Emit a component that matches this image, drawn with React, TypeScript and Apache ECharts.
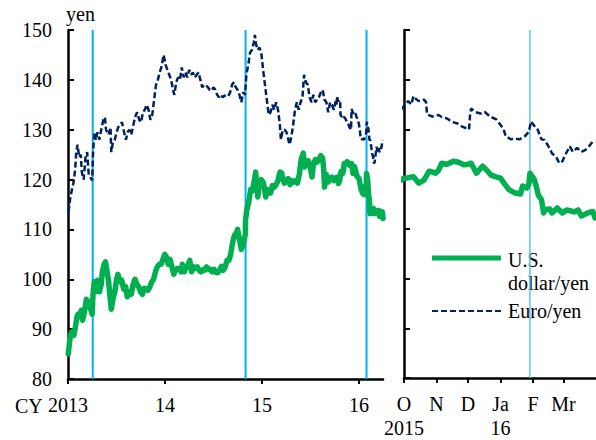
import React, { useEffect, useRef } from "react";
import * as echarts from "echarts";

// ---------- data ----------
const usdDates = [
  "2013-01-02","2013-01-07","2013-01-11","2013-01-17","2013-01-23","2013-01-29","2013-02-04","2013-02-08","2013-02-14","2013-02-20","2013-02-25",
  "2013-03-04","2013-03-11","2013-03-15","2013-03-21","2013-03-27","2013-04-02","2013-04-05","2013-04-10","2013-04-16","2013-04-22","2013-04-29",
  "2013-05-06","2013-05-10","2013-05-17","2013-05-22","2013-05-28","2013-06-03","2013-06-07","2013-06-13","2013-06-19","2013-06-26",
  "2013-07-03","2013-07-08","2013-07-15","2013-07-22","2013-07-30","2013-08-06","2013-08-12","2013-08-19","2013-08-27",
  "2013-09-03","2013-09-10","2013-09-17","2013-09-24","2013-10-01","2013-10-08","2013-10-15","2013-10-22","2013-10-29",
  "2013-11-05","2013-11-12","2013-11-19","2013-11-26","2013-12-03","2013-12-10","2013-12-17","2013-12-24","2013-12-31",
  "2014-01-06","2014-01-13","2014-01-20","2014-01-27","2014-02-03","2014-02-10","2014-02-17","2014-02-24",
  "2014-03-03","2014-03-07","2014-03-14","2014-03-21","2014-03-28","2014-04-04","2014-04-11","2014-04-18","2014-04-25",
  "2014-05-02","2014-05-09","2014-05-16","2014-05-23","2014-05-30","2014-06-06","2014-06-13","2014-06-20","2014-06-27",
  "2014-07-04","2014-07-11","2014-07-18","2014-07-25","2014-08-01","2014-08-08","2014-08-15","2014-08-22","2014-08-29",
  "2014-09-05","2014-09-12","2014-09-19","2014-09-26","2014-10-01","2014-10-08","2014-10-15","2014-10-22","2014-10-30","2014-10-31",
  "2014-11-05","2014-11-12","2014-11-19","2014-11-26","2014-12-03","2014-12-08","2014-12-12","2014-12-16","2014-12-22","2014-12-29",
  "2015-01-05","2015-01-09","2015-01-15","2015-01-21","2015-01-27","2015-02-02","2015-02-09","2015-02-16","2015-02-23",
  "2015-03-02","2015-03-06","2015-03-10","2015-03-16","2015-03-19","2015-03-26","2015-04-02","2015-04-09","2015-04-16","2015-04-23","2015-04-30",
  "2015-05-07","2015-05-14","2015-05-21","2015-05-28","2015-06-05","2015-06-10","2015-06-17","2015-06-24",
  "2015-07-01","2015-07-08","2015-07-13","2015-07-20","2015-07-27","2015-08-03","2015-08-10","2015-08-17","2015-08-21","2015-08-24","2015-08-31",
  "2015-09-07","2015-09-14","2015-09-21","2015-09-28",
  "2015-10-01","2015-10-05","2015-10-10","2015-10-15","2015-10-20","2015-10-25","2015-10-31","2015-11-03","2015-11-06","2015-11-11","2015-11-17","2015-11-22","2015-11-27",
  "2015-12-01","2015-12-04","2015-12-09","2015-12-15","2015-12-18","2015-12-23","2015-12-27","2016-01-01","2016-01-05","2016-01-09","2016-01-15","2016-01-20","2016-01-22","2016-01-26","2016-01-28","2016-01-29",
  "2016-02-02","2016-02-04","2016-02-06","2016-02-09","2016-02-11","2016-02-13","2016-02-17","2016-02-19","2016-02-24","2016-02-29",
  "2016-03-04","2016-03-08","2016-03-11","2016-03-15","2016-03-18","2016-03-24","2016-03-29","2016-03-31"
];
const usdValues = [
  85.0,87.5,89.0,89.5,88.8,90.5,92.5,93.0,92.5,93.8,91.8,
  93.5,96.0,95.0,95.5,94.0,93.0,97.0,99.5,97.5,99.8,97.5,
  99.0,101.5,103.0,103.5,101.5,99.5,97.0,94.0,96.0,97.5,
  100.0,101.0,99.5,99.8,98.0,98.5,96.5,97.5,97.0,
  99.0,100.0,99.0,98.5,97.5,97.0,98.2,98.0,97.8,
  98.5,99.5,100.0,101.5,102.5,103.0,103.0,104.0,105.0,
  104.5,103.0,104.0,102.5,101.0,102.0,102.2,102.0,
  101.5,103.0,101.5,102.3,102.8,103.8,101.5,102.5,102.2,
  102.5,101.8,101.5,101.9,101.8,102.5,102.0,102.0,101.5,
  102.0,101.4,101.3,101.8,102.6,101.8,102.4,103.8,103.8,
  105.0,107.3,108.8,109.3,110.0,108.0,106.0,107.0,109.0,112.0,
  114.0,115.5,118.0,117.8,119.8,121.5,118.8,116.5,119.5,120.0,
  119.5,118.5,116.5,118.0,117.8,117.3,118.8,118.5,119.0,
  119.8,120.8,121.5,121.3,120.3,119.3,119.8,120.2,119.0,119.8,119.5,
  119.8,119.3,121.0,124.0,125.3,122.5,123.8,123.8,
  122.5,120.5,123.0,124.0,123.5,124.0,124.8,124.3,122.0,118.5,121.0,
  119.5,120.3,120.5,119.8,
  120.2,120.3,120.5,119.2,119.8,121.6,121.2,121.8,123.2,123.0,123.6,123.4,122.9,
  123.0,123.2,121.2,122.6,122.0,120.8,120.5,120.2,119.0,117.9,117.2,117.0,118.6,118.2,118.9,121.2,
  120.0,118.6,116.8,115.9,113.2,113.9,114.0,113.2,114.2,113.2,
  113.8,113.6,113.4,113.8,112.6,113.2,113.5,112.2
];

const eurDates = [
  "2013-01-02","2013-01-04","2013-01-10","2013-01-16","2013-01-22","2013-01-28","2013-02-01","2013-02-06","2013-02-12","2013-02-18","2013-02-22",
  "2013-03-01","2013-03-08","2013-03-14","2013-03-20","2013-03-26","2013-04-02","2013-04-05","2013-04-10","2013-04-16","2013-04-22","2013-04-29",
  "2013-05-06","2013-05-14","2013-05-20","2013-05-24","2013-06-03","2013-06-10","2013-06-13","2013-06-19","2013-06-26",
  "2013-07-03","2013-07-09","2013-07-16","2013-07-23","2013-07-31","2013-08-07","2013-08-13","2013-08-20","2013-08-27",
  "2013-09-04","2013-09-10","2013-09-18","2013-09-26","2013-10-03","2013-10-10","2013-10-17","2013-10-24","2013-10-31",
  "2013-11-07","2013-11-14","2013-11-21","2013-11-28","2013-12-05","2013-12-12","2013-12-18","2013-12-27",
  "2014-01-03","2014-01-10","2014-01-17","2014-01-24","2014-01-31","2014-02-05","2014-02-12","2014-02-19","2014-02-26",
  "2014-03-05","2014-03-12","2014-03-19","2014-03-26","2014-04-02","2014-04-09","2014-04-16","2014-04-23","2014-04-30",
  "2014-05-07","2014-05-14","2014-05-21","2014-05-28","2014-06-04","2014-06-11","2014-06-18","2014-06-25",
  "2014-07-02","2014-07-09","2014-07-16","2014-07-23","2014-07-30","2014-08-06","2014-08-13","2014-08-20","2014-08-27",
  "2014-09-03","2014-09-10","2014-09-17","2014-09-24","2014-10-01","2014-10-08","2014-10-15","2014-10-22","2014-10-29",
  "2014-11-03","2014-11-10","2014-11-17","2014-11-24","2014-12-01","2014-12-05","2014-12-10","2014-12-16","2014-12-22","2014-12-29",
  "2015-01-05","2015-01-12","2015-01-19","2015-01-26","2015-02-02","2015-02-09","2015-02-16","2015-02-23",
  "2015-03-02","2015-03-09","2015-03-13","2015-03-20","2015-03-27","2015-04-03","2015-04-10","2015-04-14","2015-04-21","2015-04-28",
  "2015-05-05","2015-05-12","2015-05-19","2015-05-26","2015-06-02","2015-06-08","2015-06-15","2015-06-22","2015-06-29",
  "2015-07-06","2015-07-13","2015-07-20","2015-07-27","2015-08-03","2015-08-10","2015-08-17","2015-08-24","2015-08-31",
  "2015-09-07","2015-09-14","2015-09-21","2015-09-28",
  "2015-10-01","2015-10-05","2015-10-08","2015-10-10","2015-10-13","2015-10-15","2015-10-20","2015-10-22","2015-10-23","2015-10-28",
  "2015-11-03","2015-11-06","2015-11-11","2015-11-16","2015-11-21","2015-11-26","2015-11-30","2015-12-02","2015-12-03","2015-12-04",
  "2015-12-08","2015-12-13","2015-12-17","2015-12-22","2015-12-28","2015-12-31","2016-01-04","2016-01-06","2016-01-11","2016-01-14",
  "2016-01-19","2016-01-24","2016-01-28","2016-01-30","2016-02-03","2016-02-05","2016-02-09","2016-02-12","2016-02-16","2016-02-19",
  "2016-02-23","2016-02-26","2016-02-29","2016-03-03","2016-03-07","2016-03-10","2016-03-14","2016-03-18","2016-03-22","2016-03-25","2016-03-30"
];
const eurValues = [
  113.5,113.9,116.5,118.0,119.5,122.0,125.5,127.0,124.5,125.0,121.5,
  120.0,124.5,125.5,121.0,120.5,119.8,125.0,129.5,128.0,129.5,128.0,
  130.0,132.0,132.5,130.0,129.0,130.5,125.5,127.5,128.0,
  129.5,130.5,131.0,131.5,129.5,128.0,129.5,130.0,129.0,
  131.0,132.5,133.5,132.0,131.5,133.5,134.0,135.0,134.0,
  132.0,133.0,136.0,139.0,140.0,141.5,142.5,145.0,
  143.0,142.0,141.0,140.0,138.0,137.0,139.5,140.5,140.0,
  142.5,140.5,141.5,140.5,142.0,141.0,141.5,140.5,141.0,
  141.5,140.0,138.5,139.0,139.0,138.5,138.0,137.8,
  138.5,138.0,137.0,136.5,137.0,136.5,136.8,137.0,136.8,
  137.5,139.0,139.5,138.5,138.0,137.0,135.5,137.5,137.0,
  141.0,143.0,145.5,146.0,147.5,149.0,147.0,146.0,146.5,145.5,
  142.0,139.0,136.0,133.0,133.5,135.0,134.0,135.5,
  134.0,131.0,128.0,130.0,130.0,129.5,128.0,127.0,128.5,131.0,
  134.0,135.5,134.0,135.5,136.5,141.0,139.5,139.0,136.5,
  135.5,137.0,135.5,136.0,136.5,137.5,138.0,136.0,135.5,
  133.5,135.5,135.0,134.0,
  134.7,135.7,135.0,136.7,136.0,135.7,136.0,135.5,133.0,132.6,
  132.9,132.5,132.2,131.5,131.2,130.5,130.2,130.0,133.0,134.2,
  133.5,133.2,133.5,132.6,132.0,131.2,130.0,128.6,128.0,128.2,
  128.0,128.6,129.5,131.6,130.5,130.2,128.0,127.9,126.5,125.2,
  124.5,123.2,123.6,125.0,126.6,125.5,126.3,125.5,125.9,126.5,127.9
];

const eventDates = ["2013-04-04", "2014-10-31", "2016-01-29"];

const yearStarts = ["2013-01-01", "2014-01-01", "2015-01-01", "2016-01-01"];
const yearLabels = ["2013", "14", "15", "16"];
const monthStarts = ["2015-10-01", "2015-11-01", "2015-12-01", "2016-01-01", "2016-02-01", "2016-03-01"];
const monthLabels = ["O\n2015", "N", "D", "Ja\n16", "F", "Mr"];

const leftStart = "2013-01-01";
const leftEnd = "2016-03-31";
const rightStart = "2015-10-01";
const rightEnd = "2016-04-01";

const yMin = 80;
const yMax = 150;
const yStep = 10;

// ---------- helpers ----------
const DAY = 86400000;
const daysSince = (d: string, base: string) => Math.round((Date.parse(d) - Date.parse(base)) / DAY);

const GREEN = "#00b050";
const NAVY = "#002060";
const BLUE = "#00b0f0";
const FONT = "'Liberation Serif', 'Times New Roman', 'DejaVu Serif', serif";
const FONT_CSS = `20px ${FONT}`;

export default function App() {
  const ref = useRef<HTMLDivElement>(null);

  useEffect(() => {
    if (!ref.current) return;
    const chart = echarts.init(ref.current, undefined, { renderer: "svg" });

    const leftTicks = yearStarts.map((d) => daysSince(d, leftStart));
    const rightTicks = monthStarts.map((d) => daysSince(d, rightStart));
    const leftMap: Record<number, string> = {};
    leftTicks.forEach((t, i) => (leftMap[t] = yearLabels[i]));
    const rightMap: Record<number, string> = {};
    rightTicks.forEach((t, i) => (rightMap[t] = monthLabels[i]));

    const toLeft = (dates: string[], vals: number[]) => dates.map((d, i) => [daysSince(d, leftStart), vals[i]]);
    const toRight = (dates: string[], vals: number[]) =>
      dates
        .map((d, i) => [daysSince(d, rightStart), vals[i]])
        .filter((p) => p[0] >= -10);

    const rightMax = daysSince(rightEnd, rightStart);
    const leftMax = daysSince(leftEnd, leftStart);

    const xCommon = {
      type: "value" as const,
      axisLine: { show: true, onZero: false, lineStyle: { color: "#000", width: 2.5 } },
      axisTick: { show: true, inside: false, length: 5, lineStyle: { color: "#000", width: 2 } },
      splitLine: { show: false },
      axisLabel: {
        color: "#000",
        fontFamily: FONT,
        fontSize: 20,
        lineHeight: 24,
        margin: 14,
      },
    };

    const yCommon = {
      type: "value" as const,
      min: yMin,
      max: yMax,
      interval: yStep,
      axisLine: { show: true, onZero: false, lineStyle: { color: "#000", width: 2.5 } },
      axisTick: { show: true, inside: true, length: 6, lineStyle: { color: "#000", width: 2 } },
      splitLine: { show: false },
    };

    const eventSeries: any[] = [];
    eventDates.forEach((d) => {
      const lx = daysSince(d, leftStart);
      if (lx <= leftMax) {
        eventSeries.push({
          type: "line",
          xAxisIndex: 0,
          yAxisIndex: 0,
          data: [[lx, yMin], [lx, yMax]],
          symbol: "none",
          silent: true,
          z: 1,
          lineStyle: { color: BLUE, width: 2 },
        });
      }
      const rx = daysSince(d, rightStart);
      if (rx >= 0 && rx <= rightMax) {
        eventSeries.push({
          type: "line",
          xAxisIndex: 1,
          yAxisIndex: 1,
          data: [[rx, yMin], [rx, yMax]],
          symbol: "none",
          silent: true,
          z: 1,
          lineStyle: { color: "#55c4f2", width: 1.5 },
        });
      }
    });

    const usdStyle = { color: GREEN, width: 5.5, cap: "round", join: "round" };
    const eurStyle = { color: NAVY, width: 2.5, type: [6, 3] };

    chart.setOption({
      animation: false,
      backgroundColor: "#fff",
      textStyle: { fontFamily: FONT, color: "#000" },
      grid: [
        { left: 68, top: 30, width: 315, height: 349 },
        { left: 404, top: 30, width: 192, height: 349 },
      ],
      xAxis: [
        {
          ...xCommon,
          gridIndex: 0,
          min: 0,
          max: leftMax,
          axisTick: { ...xCommon.axisTick, customValues: leftTicks },
          axisLabel: {
            ...xCommon.axisLabel,
            customValues: leftTicks,
            formatter: (v: number) => leftMap[Math.round(v)] ?? "",
          },
        },
        {
          ...xCommon,
          gridIndex: 1,
          min: 0,
          max: rightMax,
          axisTick: { ...xCommon.axisTick, customValues: rightTicks },
          axisLabel: {
            ...xCommon.axisLabel,
            customValues: rightTicks,
            formatter: (v: number) => rightMap[Math.round(v)] ?? "",
          },
        },
      ],
      yAxis: [
        {
          ...yCommon,
          gridIndex: 0,
          name: "yen",
          nameLocation: "end",
          nameGap: 6,
          nameTextStyle: { color: "#000", fontFamily: FONT, fontSize: 20, align: "left", padding: [0, 0, 0, -2] },
          axisLabel: { color: "#000", fontFamily: FONT, fontSize: 20, margin: 16 },
        },
        {
          ...yCommon,
          gridIndex: 1,
          axisLabel: { show: false },
        },
      ],
      series: [
        ...eventSeries,
        {
          name: "Euro/yen",
          type: "line",
          xAxisIndex: 0,
          yAxisIndex: 0,
          data: toLeft(eurDates, eurValues),
          symbol: "none",
          z: 3,
          lineStyle: eurStyle,
        },
        {
          name: "U.S. dollar/yen",
          type: "line",
          xAxisIndex: 0,
          yAxisIndex: 0,
          data: toLeft(usdDates, usdValues),
          symbol: "none",
          z: 4,
          lineStyle: usdStyle,
        },
        {
          name: "Euro/yen",
          type: "line",
          xAxisIndex: 1,
          yAxisIndex: 1,
          data: toRight(eurDates, eurValues),
          symbol: "none",
          z: 3,
          lineStyle: eurStyle,
        },
        {
          name: "U.S. dollar/yen",
          type: "line",
          xAxisIndex: 1,
          yAxisIndex: 1,
          data: toRight(usdDates, usdValues),
          symbol: "none",
          z: 4,
          lineStyle: usdStyle,
        },
      ],
      graphic: [
        {
          type: "text",
          left: 15,
          top: 396,
          style: { text: "CY", fill: "#000", font: FONT_CSS },
        },
        {
          type: "group",
          z: 100,
          children: [
            { type: "rect", shape: { x: 425, y: 243, width: 171, height: 106 }, style: { fill: "#fff" } },
            { type: "line", shape: { x1: 432, y1: 258, x2: 501, y2: 258 }, style: { stroke: GREEN, lineWidth: 5 } },
            { type: "text", x: 508, y: 260, style: { text: "U.S.", fill: "#000", font: FONT_CSS, verticalAlign: "middle" } },
            { type: "text", x: 508, y: 283, style: { text: "dollar/yen", fill: "#000", font: FONT_CSS, verticalAlign: "middle" } },
            { type: "line", shape: { x1: 432, y1: 311, x2: 501, y2: 311 }, style: { stroke: NAVY, lineWidth: 2, lineDash: [6, 3] } },
            { type: "text", x: 508, y: 311, style: { text: "Euro/yen", fill: "#000", font: FONT_CSS, verticalAlign: "middle" } },
          ],
        },
      ],
    });

    return () => chart.dispose();
  }, []);

  return (
    <div
      ref={ref}
      style={{ position: "fixed", left: 0, top: 0, width: 596, height: 440, background: "#fff" }}
    />
  );
}
